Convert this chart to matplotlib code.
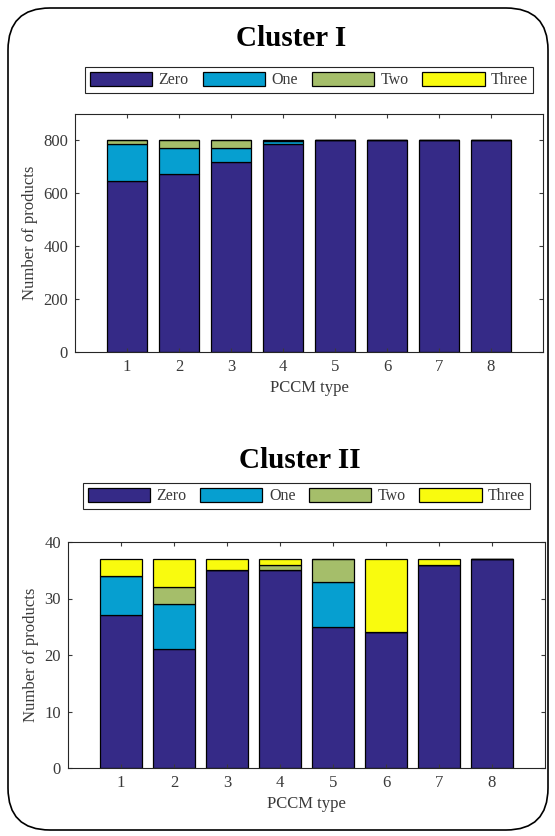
import numpy as np
import matplotlib.pyplot as plt
from matplotlib.patches import FancyBboxPatch, Patch

# -- data --
pccm_types = [1, 2, 3, 4, 5, 6, 7, 8]
series_names = ["Zero", "One", "Two", "Three"]
colors = ["#352a87", "#069fd0", "#a5be6a", "#f9fb0e"]

c1_zero = [648, 672, 718, 787, 800, 800, 800, 800]
c1_one = [139, 99, 53, 11, 0, 0, 0, 0]
c1_two = [13, 29, 29, 2, 0, 0, 0, 0]
c1_three = [0, 0, 0, 0, 0, 0, 0, 0]

c2_zero = [27, 21, 35, 35, 25, 24, 36, 37]
c2_one = [7, 8, 0, 0, 8, 0, 0, 0]
c2_two = [0, 3, 0, 1, 4, 0, 0, 0]
c2_three = [3, 5, 2, 1, 0, 13, 1, 0]

plt.rcParams['font.family'] = ['Liberation Serif', 'DejaVu Serif']
txt = '#3a3a3a'

fig = plt.figure(figsize=(5.55, 8.36), dpi=100)

# rounded frame around the whole figure
frame = FancyBboxPatch((0.08, 0.06), 5.40, 8.22, boxstyle="round,pad=0,rounding_size=0.42",
                       transform=fig.dpi_scale_trans, facecolor='none', edgecolor='black', linewidth=1.2)
fig.add_artist(frame)


def stacked(ax, parts, ymax, yticks):
    bottom = np.zeros(len(pccm_types))
    for vals, col in zip(parts, colors):
        ax.bar(pccm_types, vals, width=0.78, bottom=bottom, color=col, edgecolor='black', linewidth=0.9)
        bottom += np.array(vals)
    ax.set_xlim(0, 9)
    ax.set_ylim(0, ymax)
    ax.set_xticks(pccm_types)
    ax.set_yticks(yticks)
    ax.tick_params(direction='in', top=True, right=True, labelsize=12, colors=txt, length=3, pad=5)
    for s in ax.spines.values():
        s.set_color('#262626')
        s.set_linewidth(0.8)
    ax.set_xlabel("PCCM type", fontsize=12, color=txt)
    ax.set_ylabel("Number of products", fontsize=12, color=txt)


def add_legend(x0, y0, x1, y1):
    handles = [Patch(facecolor=c, edgecolor='black', linewidth=0.9) for c in colors]
    leg = fig.legend(handles, series_names, ncol=4, loc='lower left', mode='expand',
                     bbox_to_anchor=(x0 / 555, 1 - y1 / 836, (x1 - x0) / 555, (y1 - y0) / 836),
                     fontsize=11.5, handlelength=3.9, handleheight=1.0, handletextpad=0.4,
                     columnspacing=1.0, borderaxespad=0, borderpad=0.3, fancybox=False,
                     framealpha=1, edgecolor='#262626')
    leg.get_frame().set_linewidth(0.8)
    for t in leg.get_texts():
        t.set_color(txt)


# -- cluster I --
ax1 = fig.add_axes([75 / 555, 1 - 352 / 836, 468 / 555, 238 / 836])
stacked(ax1, [c1_zero, c1_one, c1_two, c1_three], 900, [0, 200, 400, 600, 800])
fig.text(291 / 555, 1 - 38 / 836, "Cluster I", ha='center', va='center', fontsize=21, fontweight='bold')
add_legend(85, 64, 533, 93)

# -- cluster II --
ax2 = fig.add_axes([68 / 555, 1 - 768 / 836, 477 / 555, 226 / 836])
stacked(ax2, [c2_zero, c2_one, c2_two, c2_three], 40, [0, 10, 20, 30, 40])
fig.text(300 / 555, 1 - 460 / 836, "Cluster II", ha='center', va='center', fontsize=21, fontweight='bold')
add_legend(83, 482, 530, 509)

fig.savefig("out.png", dpi=100)
